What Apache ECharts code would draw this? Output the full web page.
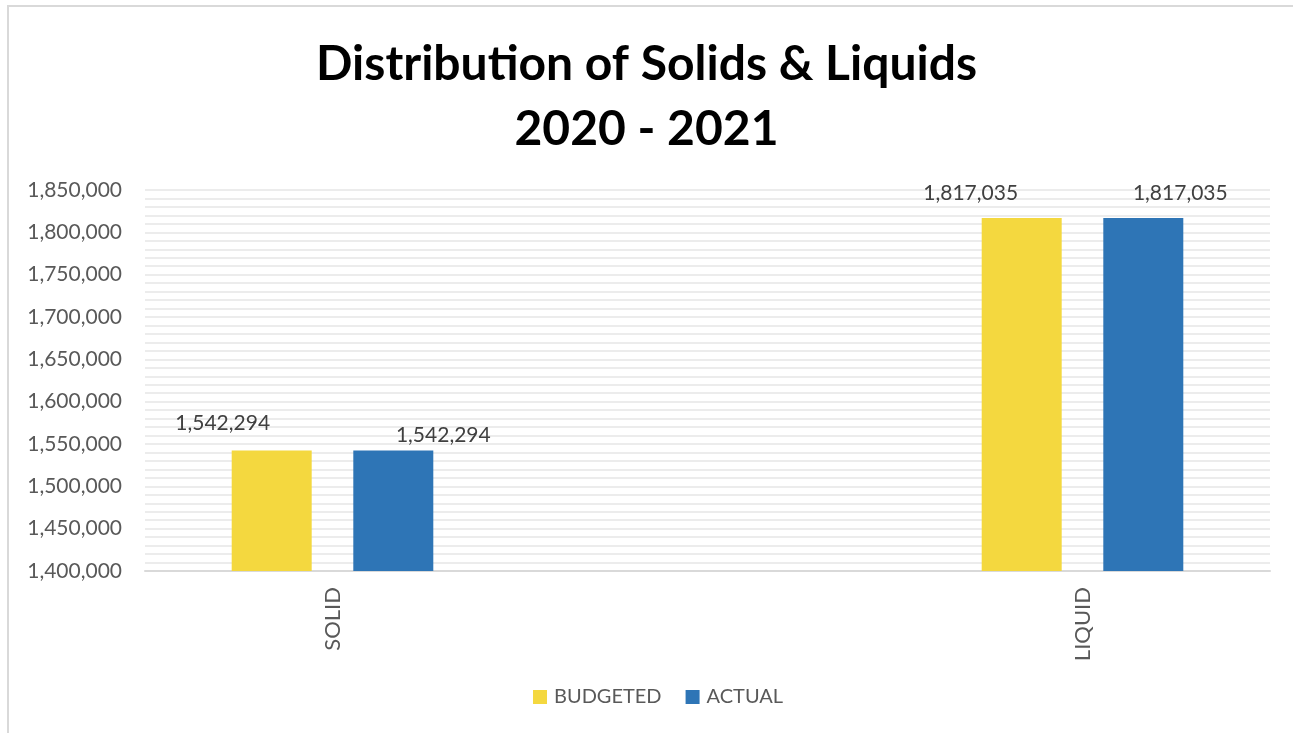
<!DOCTYPE html>
<html>
<head>
<meta charset="utf-8">
<script src="https://cdn.jsdelivr.net/npm/echarts@6/dist/echarts.min.js"></script>
<style>
html,body{margin:0;padding:0;background:#fff;}
#frame{position:absolute;left:7px;top:5px;width:1400px;height:800px;border:2px solid #d9d9d9;box-sizing:border-box;}
#chart{position:absolute;left:0;top:0;width:1293px;height:733px;}
</style>
</head>
<body>
<div id="frame"></div>
<div id="chart"></div>
<script>
const categories = ['SOLID', '', 'LIQUID'];
const budgeted = [1542294, null, 1817035];
const actual = [1542294, null, 1817035];
const seriesNames = ['BUDGETED', 'ACTUAL'];
const yMin = 1400000, yMax = 1850000, yStep = 50000;

const fmt = v => v.toLocaleString('en-US');
const font = 'Lato';
const grey = '#595959';

// label offsets per point [x, y] (manual positions as in the reference)
const budOffsets = [[-49, -12], null, [-51, -9]];
const actOffsets = [[50, 0], null, [37, -9]];

const chart = echarts.init(document.getElementById('chart'));
chart.setOption({
  animation: false,
  title: {
    text: 'Distribution of Solids & Liquids\n2020 - 2021',
    left: 'center', top: 27,
    textStyle: {fontFamily: font, fontWeight: 'bold', fontSize: 48, color: '#000', lineHeight: 65}
  },
  legend: {
    data: seriesNames, bottom: 21, left: 528,
    itemWidth: 14, itemHeight: 14, itemGap: 24, icon: 'rect',
    textStyle: {fontFamily: font, fontSize: 20, color: grey, padding: [0, 0, 0, 2]}
  },
  grid: {left: 145, right: 23, top: 190, bottom: 162},
  xAxis: {
    type: 'category', data: categories,
    axisLine: {lineStyle: {color: '#d9d9d9', width: 2}},
    axisTick: {show: false},
    axisLabel: {rotate: 90, fontFamily: font, fontSize: 22, color: grey, margin: 16, interval: 0}
  },
  yAxis: {
    type: 'value', min: yMin, max: yMax, interval: yStep,
    axisLine: {show: false}, axisTick: {show: false},
    axisLabel: {fontFamily: font, fontSize: 21, color: grey, margin: 23, formatter: v => fmt(v)},
    splitLine: {lineStyle: {color: '#ececec', width: 2}},
    minorTick: {show: false, splitNumber: 5},
    minorSplitLine: {show: true, lineStyle: {color: '#ececec', width: 2}}
  },
  series: [
    {
      name: seriesNames[0], type: 'bar', barWidth: 80, barGap: '52%',
      itemStyle: {color: '#F4D83F'},
      label: {show: true, position: 'top', fontFamily: font, fontSize: 21, color: '#404040',
        formatter: p => fmt(p.value)},
      data: budgeted.map((v, i) => v == null ? null : {value: v, label: {offset: budOffsets[i]}})
    },
    {
      name: seriesNames[1], type: 'bar', barWidth: 80,
      itemStyle: {color: '#2E75B6'},
      label: {show: true, position: 'top', fontFamily: font, fontSize: 21, color: '#404040',
        formatter: p => fmt(p.value)},
      data: actual.map((v, i) => v == null ? null : {value: v, label: {offset: actOffsets[i]}})
    }
  ]
});
</script>
</body>
</html>
